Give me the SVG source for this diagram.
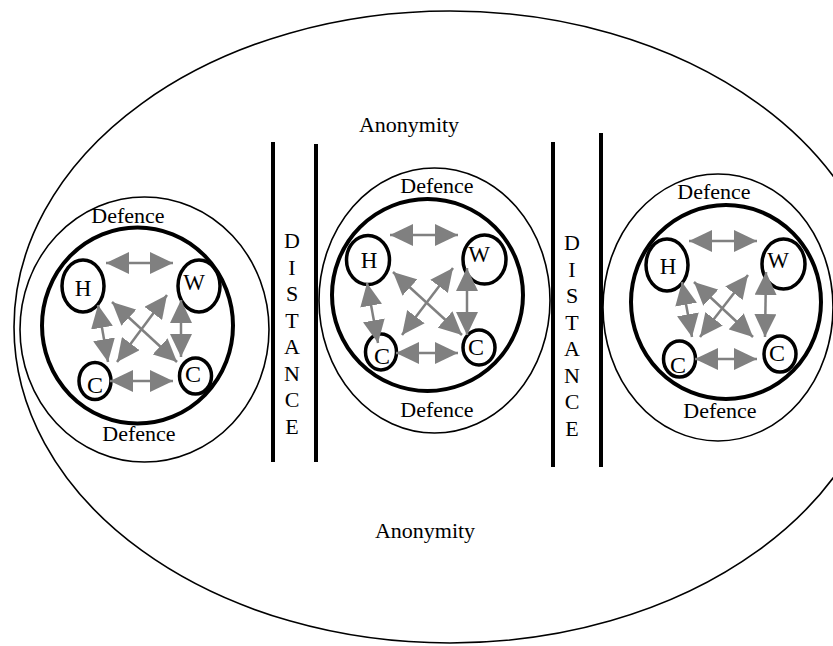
<svg xmlns="http://www.w3.org/2000/svg" width="833" height="646" viewBox="0 0 833 646">
<style>
.thin{fill:none;stroke:#000;stroke-width:1.6}
.thick{fill:none;stroke:#000;stroke-width:4}
.node{fill:none;stroke:#000;stroke-width:3.5}
.bar{stroke:#000;stroke-width:4}
.arr{stroke:#808080;stroke-width:2.5;fill:none;marker-start:url(#ah);marker-end:url(#ah)}
text{font-family:"Liberation Serif","Times New Roman",serif;fill:#000}
.lbl{font-size:22px;text-anchor:middle}
.ltr{font-size:23px;text-anchor:middle}
.ltc{font-size:24px;text-anchor:middle}
</style>
<defs>
<marker id="ah" markerUnits="userSpaceOnUse" markerWidth="23" markerHeight="22" refX="23" refY="11" orient="auto-start-reverse" viewBox="0 0 23 22">
<path d="M0,0 L23,11 L0,22 z" fill="#808080"/>
</marker>
</defs>
<rect width="833" height="646" fill="#fff"/>
<g id="world">
<ellipse class="thin" cx="450" cy="327" rx="436" ry="316"/>
<text class="lbl" x="409" y="132">Anonymity</text>
<text class="lbl" x="425" y="538">Anonymity</text>
</g>
<g id="distance-1">
<line class="bar" x1="273" y1="142" x2="273" y2="462"/>
<line class="bar" x1="316" y1="144" x2="316" y2="462"/>
<text class="lbl" x="292" y="248">D</text>
<text class="lbl" x="292" y="274.5">I</text>
<text class="lbl" x="292" y="301">S</text>
<text class="lbl" x="292" y="327.5">T</text>
<text class="lbl" x="292" y="354">A</text>
<text class="lbl" x="292" y="380.5">N</text>
<text class="lbl" x="292" y="407">C</text>
<text class="lbl" x="292" y="433.5">E</text>
</g>
<g id="distance-2">
<line class="bar" x1="553" y1="142" x2="553" y2="467"/>
<line class="bar" x1="601" y1="133" x2="601" y2="467"/>
<text class="lbl" x="572" y="250">D</text>
<text class="lbl" x="572" y="276.5">I</text>
<text class="lbl" x="572" y="303">S</text>
<text class="lbl" x="572" y="329.5">T</text>
<text class="lbl" x="572" y="356">A</text>
<text class="lbl" x="572" y="382.5">N</text>
<text class="lbl" x="572" y="409">C</text>
<text class="lbl" x="572" y="435.5">E</text>
</g>
<g id="group-left">
<ellipse class="thin" cx="144.5" cy="329.5" rx="124.5" ry="132.5"/>
<ellipse class="thick" cx="137.5" cy="325.5" rx="95.5" ry="98"/>
<text class="lbl" x="128" y="223">Defence</text>
<text class="lbl" x="139" y="441">Defence</text>
<g id="left-H"><ellipse class="node" cx="83" cy="286" rx="21" ry="26"/><text class="ltr" x="83" y="296">H</text></g>
<g id="left-W"><ellipse class="node" cx="199" cy="286" rx="21" ry="26"/><text class="ltr" x="194" y="290">W</text></g>
<g id="left-C1"><ellipse class="node" cx="95" cy="381" rx="16" ry="18.5"/><text class="ltc" x="95" y="393">C</text></g>
<g id="left-C2"><ellipse class="node" cx="195.5" cy="376" rx="16" ry="18"/><text class="ltc" x="193" y="382">C</text></g>
</g>
<g id="group-middle">
<ellipse class="thin" cx="434.5" cy="300.5" rx="115.5" ry="132.5"/>
<ellipse class="thick" cx="427.5" cy="295" rx="95.5" ry="96"/>
<text class="lbl" x="437" y="193">Defence</text>
<text class="lbl" x="437" y="417">Defence</text>
<g id="mid-H"><ellipse class="node" cx="368" cy="260" rx="21.5" ry="24.5"/><text class="ltr" x="369" y="268">H</text></g>
<g id="mid-W"><ellipse class="node" cx="484.5" cy="259.5" rx="21.5" ry="24.5"/><text class="ltr" x="479" y="262">W</text></g>
<g id="mid-C1"><ellipse class="node" cx="381" cy="352" rx="15.5" ry="18"/><text class="ltc" x="382" y="364">C</text></g>
<g id="mid-C2"><ellipse class="node" cx="479" cy="347.5" rx="16" ry="17.5"/><text class="ltc" x="476" y="355">C</text></g>
</g>
<g id="group-right">
<ellipse class="thin" cx="718" cy="307.5" rx="115" ry="133.5"/>
<ellipse class="thick" cx="726" cy="302" rx="95" ry="97"/>
<text class="lbl" x="714" y="199">Defence</text>
<text class="lbl" x="720" y="418">Defence</text>
<g id="right-H"><ellipse class="node" cx="667" cy="265" rx="21" ry="26"/><text class="ltr" x="668" y="274">H</text></g>
<g id="right-W"><ellipse class="node" cx="783.5" cy="264" rx="21.5" ry="25"/><text class="ltr" x="778" y="268">W</text></g>
<g id="right-C1"><ellipse class="node" cx="679.5" cy="359" rx="16" ry="18"/><text class="ltc" x="678" y="373">C</text></g>
<g id="right-C2"><ellipse class="node" cx="780" cy="354" rx="16" ry="18"/><text class="ltc" x="777" y="361">C</text></g>
</g>
<g id="connectors">
<line class="arr" x1="106" y1="263" x2="173" y2="263"/>
<line class="arr" x1="110" y1="381" x2="173" y2="381"/>
<line class="arr" x1="98" y1="305" x2="108" y2="362"/>
<line class="arr" x1="181" y1="300" x2="181" y2="357"/>
<line class="arr" x1="112" y1="302" x2="177" y2="362"/>
<line class="arr" x1="167" y1="295" x2="117" y2="362"/>
<line class="arr" x1="390" y1="235" x2="458" y2="235"/>
<line class="arr" x1="396" y1="353" x2="458" y2="353"/>
<line class="arr" x1="367" y1="283" x2="378" y2="343"/>
<line class="arr" x1="467" y1="268" x2="467" y2="335"/>
<line class="arr" x1="393" y1="272" x2="462" y2="335"/>
<line class="arr" x1="453" y1="268" x2="402" y2="335"/>
<line class="arr" x1="689" y1="241" x2="757" y2="241"/>
<line class="arr" x1="695" y1="359" x2="757" y2="359"/>
<line class="arr" x1="682" y1="282" x2="692" y2="337"/>
<line class="arr" x1="766" y1="272" x2="765" y2="337"/>
<line class="arr" x1="694" y1="282" x2="753" y2="337"/>
<line class="arr" x1="748" y1="275" x2="700" y2="337"/>
</g>
</svg>
